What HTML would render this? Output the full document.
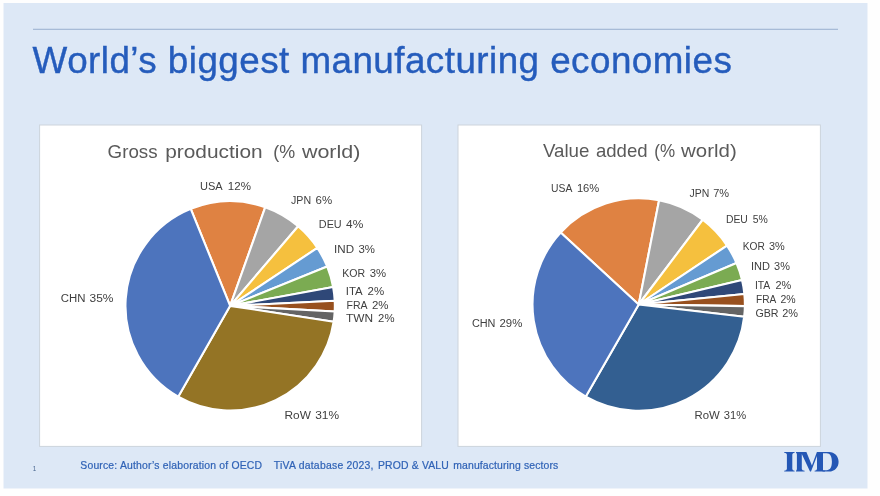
<!DOCTYPE html>
<html><head><meta charset="utf-8"><title>World's biggest manufacturing economies</title>
<style>
html,body{margin:0;padding:0;background:#fefefe;}
body{width:880px;height:496px;overflow:hidden;font-family:"Liberation Sans",sans-serif;}
svg{display:block;will-change:transform;}
text{font-family:"Liberation Sans",sans-serif;}
text.serif{font-family:"Liberation Serif",serif;}
</style></head><body>
<svg width="880" height="496" viewBox="0 0 880 496">
<rect x="0" y="0" width="880" height="496" fill="#fefefe"/>
<rect x="3.5" y="3" width="864" height="485.5" fill="#dde8f6"/>
<rect x="33" y="28.8" width="805" height="0.9" fill="#90a9cb"/>
<text x="32.6" y="72.8" font-size="36.8" fill="#255cbc" font-weight="normal" font-family="Liberation Sans" textLength="699.2" lengthAdjust="spacing" stroke="#255cbc" stroke-width="0.4">World’s biggest manufacturing economies</text>
<rect x="39.6" y="125.0" width="382.0" height="321.4" fill="#ffffff" stroke="#cdd4dc" stroke-width="1"/>
<rect x="458.0" y="125.0" width="362.4" height="321.4" fill="#ffffff" stroke="#cdd4dc" stroke-width="1"/>
<text x="107.6" y="157.60000000000002" font-size="19" fill="#5a5a5a" font-weight="normal" font-family="Liberation Sans" textLength="50.0" lengthAdjust="spacingAndGlyphs" >Gross</text>
<text x="165.2" y="157.60000000000002" font-size="19" fill="#5a5a5a" font-weight="normal" font-family="Liberation Sans" textLength="97.4" lengthAdjust="spacingAndGlyphs" >production</text>
<text x="273.3" y="157.60000000000002" font-size="19" fill="#5a5a5a" font-weight="normal" font-family="Liberation Sans" textLength="21.9" lengthAdjust="spacingAndGlyphs" >(%</text>
<text x="301.9" y="157.60000000000002" font-size="19" fill="#5a5a5a" font-weight="normal" font-family="Liberation Sans" textLength="58.5" lengthAdjust="spacingAndGlyphs" >world)</text>
<text x="542.9" y="157.3" font-size="19" fill="#5a5a5a" font-weight="normal" font-family="Liberation Sans" textLength="46.5" lengthAdjust="spacingAndGlyphs" >Value</text>
<text x="595.9" y="157.3" font-size="19" fill="#5a5a5a" font-weight="normal" font-family="Liberation Sans" textLength="51.7" lengthAdjust="spacingAndGlyphs" >added</text>
<text x="654.3" y="157.3" font-size="19" fill="#5a5a5a" font-weight="normal" font-family="Liberation Sans" textLength="20.8" lengthAdjust="spacingAndGlyphs" >(%</text>
<text x="681.1" y="157.3" font-size="19" fill="#5a5a5a" font-weight="normal" font-family="Liberation Sans" textLength="55.6" lengthAdjust="spacingAndGlyphs" >world)</text>
<g stroke="#fff" stroke-width="2.1" stroke-linejoin="round"><path d="M230.15,305.85L190.76,208.84A104.7,104.7 0 0 1 265.27,207.22Z" fill="#DF8242"/><path d="M230.15,305.85L265.27,207.22A104.7,104.7 0 0 1 298.15,226.24Z" fill="#A5A5A5"/><path d="M230.15,305.85L298.15,226.24A104.7,104.7 0 0 1 317.36,247.91Z" fill="#F5C03E"/><path d="M230.15,305.85L317.36,247.91A104.7,104.7 0 0 1 327.16,266.46Z" fill="#659BD2"/><path d="M230.15,305.85L327.16,266.46A104.7,104.7 0 0 1 333.13,286.95Z" fill="#7BAB52"/><path d="M230.15,305.85L333.13,286.95A104.7,104.7 0 0 1 334.73,300.74Z" fill="#2F4878"/><path d="M230.15,305.85L334.73,300.74A104.7,104.7 0 0 1 334.70,311.51Z" fill="#98501E"/><path d="M230.15,305.85L334.70,311.51A104.7,104.7 0 0 1 333.65,321.69Z" fill="#646464"/><path d="M230.15,305.85L333.65,321.69A104.7,104.7 0 0 1 178.20,396.75Z" fill="#947425"/><path d="M230.15,305.85L178.20,396.75A104.7,104.7 0 0 1 190.76,208.84Z" fill="#4D74BD"/></g>
<g stroke="#fff" stroke-width="2.1" stroke-linejoin="round"><path d="M638.70,304.50L560.65,232.48A106.2,106.2 0 0 1 659.09,200.28Z" fill="#DF8242"/><path d="M638.70,304.50L659.09,200.28A106.2,106.2 0 0 1 702.70,219.75Z" fill="#A5A5A5"/><path d="M638.70,304.50L702.70,219.75A106.2,106.2 0 0 1 727.05,245.58Z" fill="#F5C03E"/><path d="M638.70,304.50L727.05,245.58A106.2,106.2 0 0 1 736.49,263.09Z" fill="#659BD2"/><path d="M638.70,304.50L736.49,263.09A106.2,106.2 0 0 1 742.05,280.07Z" fill="#7BAB52"/><path d="M638.70,304.50L742.05,280.07A106.2,106.2 0 0 1 744.37,293.95Z" fill="#2F4878"/><path d="M638.70,304.50L744.37,293.95A106.2,106.2 0 0 1 744.89,306.17Z" fill="#98501E"/><path d="M638.70,304.50L744.89,306.17A106.2,106.2 0 0 1 744.20,316.71Z" fill="#646464"/><path d="M638.70,304.50L744.20,316.71A106.2,106.2 0 0 1 585.82,396.60Z" fill="#335F91"/><path d="M638.70,304.50L585.82,396.60A106.2,106.2 0 0 1 560.65,232.48Z" fill="#4D74BD"/></g>
<text x="200.0" y="190.0" font-size="11.7" fill="#404040" font-weight="normal" font-family="Liberation Sans" textLength="22.7" lengthAdjust="spacingAndGlyphs" >USA</text>
<text x="227.8" y="190.0" font-size="11.7" fill="#404040" font-weight="normal" font-family="Liberation Sans" textLength="23.1" lengthAdjust="spacingAndGlyphs" >12%</text>
<text x="291.0" y="203.9" font-size="11.7" fill="#404040" font-weight="normal" font-family="Liberation Sans" textLength="20.1" lengthAdjust="spacingAndGlyphs" >JPN</text>
<text x="315.6" y="203.9" font-size="11.7" fill="#404040" font-weight="normal" font-family="Liberation Sans" textLength="16.6" lengthAdjust="spacingAndGlyphs" >6%</text>
<text x="318.8" y="227.5" font-size="11.7" fill="#404040" font-weight="normal" font-family="Liberation Sans" textLength="22.9" lengthAdjust="spacingAndGlyphs" >DEU</text>
<text x="346.1" y="227.5" font-size="11.7" fill="#404040" font-weight="normal" font-family="Liberation Sans" textLength="17.2" lengthAdjust="spacingAndGlyphs" >4%</text>
<text x="334.1" y="252.6" font-size="11.7" fill="#404040" font-weight="normal" font-family="Liberation Sans" textLength="20.0" lengthAdjust="spacingAndGlyphs" >IND</text>
<text x="358.4" y="252.6" font-size="11.7" fill="#404040" font-weight="normal" font-family="Liberation Sans" textLength="16.5" lengthAdjust="spacingAndGlyphs" >3%</text>
<text x="342.3" y="276.8" font-size="11.7" fill="#404040" font-weight="normal" font-family="Liberation Sans" textLength="22.9" lengthAdjust="spacingAndGlyphs" >KOR</text>
<text x="369.7" y="276.8" font-size="11.7" fill="#404040" font-weight="normal" font-family="Liberation Sans" textLength="16.4" lengthAdjust="spacingAndGlyphs" >3%</text>
<text x="345.8" y="295.4" font-size="11.7" fill="#404040" font-weight="normal" font-family="Liberation Sans" textLength="16.9" lengthAdjust="spacingAndGlyphs" >ITA</text>
<text x="367.6" y="295.4" font-size="11.7" fill="#404040" font-weight="normal" font-family="Liberation Sans" textLength="16.6" lengthAdjust="spacingAndGlyphs" >2%</text>
<text x="346.6" y="309.4" font-size="11.7" fill="#404040" font-weight="normal" font-family="Liberation Sans" textLength="21.0" lengthAdjust="spacingAndGlyphs" >FRA</text>
<text x="371.9" y="309.4" font-size="11.7" fill="#404040" font-weight="normal" font-family="Liberation Sans" textLength="16.6" lengthAdjust="spacingAndGlyphs" >2%</text>
<text x="346.1" y="322.4" font-size="11.7" fill="#404040" font-weight="normal" font-family="Liberation Sans" textLength="27.1" lengthAdjust="spacingAndGlyphs" >TWN</text>
<text x="378.1" y="322.4" font-size="11.7" fill="#404040" font-weight="normal" font-family="Liberation Sans" textLength="16.4" lengthAdjust="spacingAndGlyphs" >2%</text>
<text x="60.8" y="302.4" font-size="11.7" fill="#404040" font-weight="normal" font-family="Liberation Sans" textLength="24.7" lengthAdjust="spacingAndGlyphs" >CHN</text>
<text x="89.5" y="302.4" font-size="11.7" fill="#404040" font-weight="normal" font-family="Liberation Sans" textLength="23.9" lengthAdjust="spacingAndGlyphs" >35%</text>
<text x="284.5" y="418.8" font-size="11.7" fill="#404040" font-weight="normal" font-family="Liberation Sans" textLength="26.4" lengthAdjust="spacingAndGlyphs" >RoW</text>
<text x="315.2" y="418.8" font-size="11.7" fill="#404040" font-weight="normal" font-family="Liberation Sans" textLength="23.9" lengthAdjust="spacingAndGlyphs" >31%</text>
<text x="551.1" y="191.8" font-size="11.7" fill="#404040" font-weight="normal" font-family="Liberation Sans" textLength="21.3" lengthAdjust="spacingAndGlyphs" >USA</text>
<text x="576.9" y="191.8" font-size="11.7" fill="#404040" font-weight="normal" font-family="Liberation Sans" textLength="22.4" lengthAdjust="spacingAndGlyphs" >16%</text>
<text x="689.6" y="196.9" font-size="11.7" fill="#404040" font-weight="normal" font-family="Liberation Sans" textLength="19.8" lengthAdjust="spacingAndGlyphs" >JPN</text>
<text x="713.2" y="196.9" font-size="11.7" fill="#404040" font-weight="normal" font-family="Liberation Sans" textLength="15.9" lengthAdjust="spacingAndGlyphs" >7%</text>
<text x="725.9" y="222.6" font-size="11.7" fill="#404040" font-weight="normal" font-family="Liberation Sans" textLength="21.9" lengthAdjust="spacingAndGlyphs" >DEU</text>
<text x="752.7" y="222.6" font-size="11.7" fill="#404040" font-weight="normal" font-family="Liberation Sans" textLength="15.1" lengthAdjust="spacingAndGlyphs" >5%</text>
<text x="742.7" y="249.9" font-size="11.7" fill="#404040" font-weight="normal" font-family="Liberation Sans" textLength="22.1" lengthAdjust="spacingAndGlyphs" >KOR</text>
<text x="769.0" y="249.9" font-size="11.7" fill="#404040" font-weight="normal" font-family="Liberation Sans" textLength="15.8" lengthAdjust="spacingAndGlyphs" >3%</text>
<text x="750.9" y="270.4" font-size="11.7" fill="#404040" font-weight="normal" font-family="Liberation Sans" textLength="19.0" lengthAdjust="spacingAndGlyphs" >IND</text>
<text x="774.1" y="270.4" font-size="11.7" fill="#404040" font-weight="normal" font-family="Liberation Sans" textLength="15.8" lengthAdjust="spacingAndGlyphs" >3%</text>
<text x="754.9" y="288.5" font-size="11.7" fill="#404040" font-weight="normal" font-family="Liberation Sans" textLength="15.4" lengthAdjust="spacingAndGlyphs" >ITA</text>
<text x="775.4" y="288.5" font-size="11.7" fill="#404040" font-weight="normal" font-family="Liberation Sans" textLength="15.8" lengthAdjust="spacingAndGlyphs" >2%</text>
<text x="756.0" y="302.7" font-size="11.7" fill="#404040" font-weight="normal" font-family="Liberation Sans" textLength="20.3" lengthAdjust="spacingAndGlyphs" >FRA</text>
<text x="780.5" y="302.7" font-size="11.7" fill="#404040" font-weight="normal" font-family="Liberation Sans" textLength="15.2" lengthAdjust="spacingAndGlyphs" >2%</text>
<text x="755.4" y="316.7" font-size="11.7" fill="#404040" font-weight="normal" font-family="Liberation Sans" textLength="23.2" lengthAdjust="spacingAndGlyphs" >GBR</text>
<text x="782.3" y="316.7" font-size="11.7" fill="#404040" font-weight="normal" font-family="Liberation Sans" textLength="15.8" lengthAdjust="spacingAndGlyphs" >2%</text>
<text x="471.9" y="326.6" font-size="11.7" fill="#404040" font-weight="normal" font-family="Liberation Sans" textLength="23.6" lengthAdjust="spacingAndGlyphs" >CHN</text>
<text x="499.5" y="326.6" font-size="11.7" fill="#404040" font-weight="normal" font-family="Liberation Sans" textLength="22.8" lengthAdjust="spacingAndGlyphs" >29%</text>
<text x="694.5" y="418.7" font-size="11.7" fill="#404040" font-weight="normal" font-family="Liberation Sans" textLength="25.3" lengthAdjust="spacingAndGlyphs" >RoW</text>
<text x="723.75" y="418.7" font-size="11.7" fill="#404040" font-weight="normal" font-family="Liberation Sans" textLength="22.35" lengthAdjust="spacingAndGlyphs" >31%</text>
<text x="80.3" y="468.7" font-size="10.4" fill="#2f62b6" font-weight="normal" font-family="Liberation Sans" textLength="181.7" lengthAdjust="spacing" stroke="#2f62b6" stroke-width="0.2">Source: Author’s elaboration of OECD</text>
<text x="273.8" y="468.7" font-size="10.4" fill="#2f62b6" font-weight="normal" font-family="Liberation Sans" textLength="99.7" lengthAdjust="spacing" stroke="#2f62b6" stroke-width="0.2">TiVA database 2023,</text>
<text x="378.0" y="468.7" font-size="10.4" fill="#2f62b6" font-weight="normal" font-family="Liberation Sans" textLength="70.8" lengthAdjust="spacing" stroke="#2f62b6" stroke-width="0.2">PROD &amp; VALU</text>
<text x="453.3" y="468.7" font-size="10.4" fill="#2f62b6" font-weight="normal" font-family="Liberation Sans" textLength="104.9" lengthAdjust="spacing" stroke="#2f62b6" stroke-width="0.2">manufacturing sectors</text>
<text x="32.7" y="471.3" font-size="6.3" fill="#4a6890" font-weight="normal" font-family="Liberation Sans" >1</text>
<g fill="#2457b5"><path d="M784.2,451.9 L794.6,451.9 L794.6,452.79999999999995 Q792.5,453.09999999999997 792.3,454.59999999999997 L792.3,468.90000000000003 Q792.5,470.40000000000003 794.6,470.70000000000005 L794.6,471.6 L784.2,471.6 L784.2,470.70000000000005 Q786.7,470.40000000000003 786.9,468.90000000000003 L786.9,454.59999999999997 Q786.7,453.09999999999997 784.2,452.79999999999995 Z"/><path d="M796.0,451.9 L806.4,451.9 L811.9,465.5 L816.9,451.9 L825,451.9 L825,452.79999999999995 L823.0,453.09999999999997 L823.0,470.40000000000003 L825,470.70000000000005 L825,471.6 L814.6,471.6 L814.6,470.70000000000005 Q816.8,470.40000000000003 817.0,468.90000000000003 L817.0,456.09999999999997 L811.0,471.6 L810.0,471.6 L801.8,454.09999999999997 L801.8,468.90000000000003 Q802.0,470.40000000000003 804.6,470.70000000000005 L804.6,471.6 L796.0,471.6 L796.0,470.70000000000005 Q796.7,470.40000000000003 796.9,468.90000000000003 L796.9,454.59999999999997 Q796.7,453.09999999999997 796.0,452.79999999999995 Z"/><path d="M822.5,451.9 L829.0,451.9 C834.6,451.9 838.6,456.09999999999997 838.6,461.75 C838.6,467.40000000000003 834.6,471.6 829.0,471.6 L822.5,471.6 L822.5,470.20000000000005 L826.6,470.20000000000005 C830.2,470.20000000000005 831.9,467.0 831.9,461.75 C831.9,456.5 830.2,453.29999999999995 826.6,453.29999999999995 L822.5,453.29999999999995 Z"/></g>
</svg>
</body></html>
